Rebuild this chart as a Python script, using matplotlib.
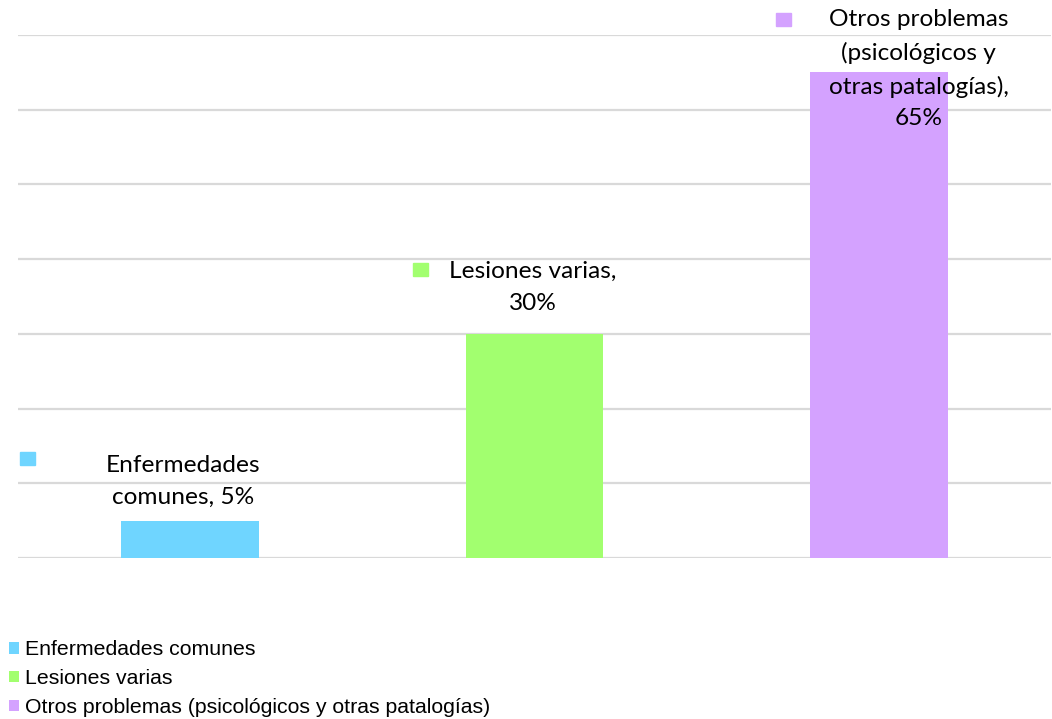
import matplotlib
matplotlib.use("Agg")
import matplotlib.pyplot as plt
from matplotlib.patches import Patch, Rectangle

categories = ["Enfermedades comunes", "Lesiones varias",
              "Otros problemas (psicológicos y otras patalogías)"]
values = [5, 30, 65]
label_texts = ["Enfermedades\ncomunes, 5%", "Lesiones varias,\n30%",
               "Otros problemas\n(psicológicos y\notras patalogías),\n65%"]
colors = ["#6FD5FF", "#A2FF6F", "#D4A2FF"]

W, H = 1052, 719
fig = plt.figure(figsize=(W / 100, H / 100), dpi=100)
left = 17.75 / W
ax = fig.add_axes([left, (H - 558) / H, 1033.5 / W, (558 - 35) / H])
x = list(range(len(categories)))
ax.bar(x, values, width=0.4, color=colors, zorder=3)
ax.set_xlim(-0.5, 2.5)
ax.set_ylim(0, 70)
ax.set_yticks(range(0, 71, 10))
ax.grid(axis="y", color="#D9D9D9", linewidth=1.6, zorder=0)
ax.set_axisbelow(True)
for s in ax.spines.values():
    s.set_visible(False)
ax.tick_params(left=False, bottom=False, labelleft=False, labelbottom=False)

# label offsets in pixels (text block centre, key centre) relative to bar top
text_off = [(-7, 39.5), (-1.5, 46.5), (39.5, 3)]
key_off = [(-162.5, 62.5), (-114, 64), (-96, 52.5)]
for i, (v, t) in enumerate(zip(values, label_texts)):
    ax.annotate(t, xy=(i, v), xytext=text_off[i], textcoords="offset pixels",
                ha="center", va="center", multialignment="center",
                fontsize=17.6, family="Lato", linespacing=1.64, zorder=5,
                annotation_clip=False)
    px, py = ax.transData.transform((i, v))
    kx, ky = px + key_off[i][0], py + key_off[i][1]
    fig.patches.append(Rectangle((kx - 7.5, ky - 6.5), 15, 13, color=colors[i],
                                 transform=None, figure=fig))

handles = [Patch(facecolor=c, edgecolor="none") for c in colors]
fig.legend(handles, categories, loc="lower left", bbox_to_anchor=(0.0, -0.009),
           frameon=False, prop={"family": "Liberation Sans", "size": 15.3},
           handlelength=0.5, handleheight=0.45, handletextpad=0.28,
           labelspacing=0.46, borderaxespad=0.0, borderpad=0.4)

fig.savefig("out.png", dpi=100)
